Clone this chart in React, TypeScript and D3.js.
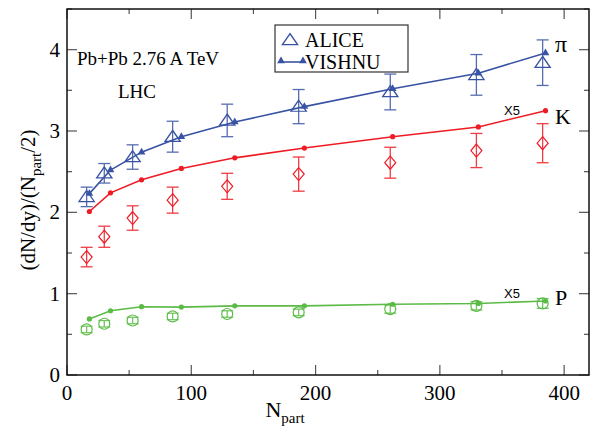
import { useEffect, useRef } from "react";
import * as d3 from "d3";

// ALICE data (centrality bins)
const npartData = [15.8, 30.0, 52.8, 85.0, 128.9, 186.4, 260.1, 329.4, 382.7];
const piData = [2.19, 2.48, 2.68, 2.93, 3.13, 3.30, 3.48, 3.69, 3.84];
const piErr = [0.12, 0.12, 0.15, 0.19, 0.20, 0.21, 0.22, 0.25, 0.28];
const kData = [1.45, 1.70, 1.93, 2.15, 2.32, 2.47, 2.61, 2.76, 2.85];
const kErr = [0.12, 0.13, 0.15, 0.16, 0.16, 0.21, 0.19, 0.21, 0.24];
const pData = [0.56, 0.63, 0.67, 0.72, 0.75, 0.77, 0.81, 0.85, 0.88];
const pErr = [0.04, 0.04, 0.04, 0.04, 0.04, 0.04, 0.05, 0.05, 0.06];

// VISHNU model
const npartModel = [18, 35, 60, 92, 135, 191, 262, 331, 385];
const piModel = [2.23, 2.52, 2.74, 2.93, 3.11, 3.30, 3.52, 3.71, 3.96];
const kModel = [2.01, 2.24, 2.40, 2.54, 2.67, 2.79, 2.93, 3.05, 3.25];
const pModel = [0.69, 0.79, 0.84, 0.835, 0.85, 0.85, 0.87, 0.88, 0.91];

const xTicks = [0, 100, 200, 300, 400];
const yTicks = [0, 1, 2, 3, 4];

const BLUE = "#3953a4";
const RED = "#ee1c25";
const GREEN = "#5bbb46";

export default function App() {
  const ref = useRef<SVGSVGElement>(null);

  useEffect(() => {
    const svg = d3.select(ref.current);
    svg.selectAll("*").remove();

    const L = 67, R = 589, T = 9, B = 375;
    const x = d3.scaleLinear().domain([0, 420]).range([L, R]);
    const y = d3.scaleLinear().domain([0, 4.5]).range([B, T]);
    const serif = "'Liberation Serif', 'Times New Roman', Tinos, 'DejaVu Serif', serif";
    const sans = "'Liberation Sans', Arial, sans-serif";

    // ticks on all sides
    const tk = svg.append("g").attr("stroke", "#555").attr("stroke-width", 1.2);
    d3.range(0, 421, 50).forEach((v) => {
      const len = v % 100 === 0 ? 10 : 5;
      tk.append("line").attr("x1", x(v)).attr("x2", x(v)).attr("y1", B).attr("y2", B - len);
      tk.append("line").attr("x1", x(v)).attr("x2", x(v)).attr("y1", T).attr("y2", T + len);
    });
    d3.range(0, 4.51, 0.5).forEach((v) => {
      const len = Math.abs(v - Math.round(v)) < 1e-6 ? 10 : 5;
      tk.append("line").attr("y1", y(v)).attr("y2", y(v)).attr("x1", L).attr("x2", L + len);
      tk.append("line").attr("y1", y(v)).attr("y2", y(v)).attr("x1", R).attr("x2", R - len);
    });

    svg.append("rect").attr("x", L).attr("y", T).attr("width", R - L).attr("height", B - T)
      .attr("fill", "none").attr("stroke", "#111").attr("stroke-width", 1.5);

    // tick labels
    svg.append("g").selectAll("text").data(xTicks).join("text")
      .attr("x", (d) => x(d)).attr("y", B + 25).attr("text-anchor", "middle")
      .style("font-family", serif).attr("font-size", 21).text((d) => d);
    svg.append("g").selectAll("text").data(yTicks).join("text")
      .attr("x", L - 7).attr("y", (d) => y(d) + 7).attr("text-anchor", "end")
      .style("font-family", serif).attr("font-size", 21).text((d) => d);

    // axis titles
    const xt = svg.append("text").attr("x", 285).attr("y", 417).attr("text-anchor", "middle")
      .style("font-family", serif).attr("font-size", 22);
    xt.append("tspan").text("N");
    xt.append("tspan").attr("font-size", 15).attr("dy", 6).text("part");

    const yt = svg.append("text").attr("transform", "translate(35,200) rotate(-90)")
      .attr("text-anchor", "middle").style("font-family", serif).attr("font-size", 21);
    yt.append("tspan").text("(dN/dy)/(N");
    yt.append("tspan").attr("font-size", 15).attr("dy", 6).text("part");
    yt.append("tspan").attr("dy", -6).text("/2)");

    const line = d3.line<number>().x((_, i) => x(npartModel[i])).y((d) => y(d));
    const tri = d3.symbol().type(d3.symbolTriangle);

    const drawErr = (vals: number[], errs: number[], color: string) => {
      const g = svg.append("g").attr("stroke", color).attr("stroke-width", 1.3).attr("opacity", 0.85);
      vals.forEach((v, i) => {
        const cx = x(npartData[i]);
        const y1 = y(v + errs[i]), y2 = y(v - errs[i]);
        g.append("line").attr("x1", cx).attr("x2", cx).attr("y1", y1).attr("y2", y2);
        g.append("line").attr("x1", cx - 6).attr("x2", cx + 6).attr("y1", y1).attr("y2", y1);
        g.append("line").attr("x1", cx - 6).attr("x2", cx + 6).attr("y1", y2).attr("y2", y2);
      });
    };

    // pions
    drawErr(piData, piErr, BLUE);
    svg.append("g").selectAll("path").data(piData).join("path")
      .attr("d", tri.size(70)())
      .attr("transform", (d, i) => `translate(${x(npartData[i])},${y(d) + 1}) scale(1.2,1)`)
      .attr("fill", "none").attr("stroke", BLUE).attr("stroke-width", 1.2);
    svg.append("path").datum(piModel).attr("d", line).attr("fill", "none")
      .attr("stroke", BLUE).attr("stroke-width", 1.6);
    svg.append("g").selectAll("path").data(piModel).join("path")
      .attr("d", tri.size(26)())
      .attr("transform", (d, i) => `translate(${x(npartModel[i])},${y(d)})`)
      .attr("fill", BLUE);

    // kaons
    drawErr(kData, kErr, RED);
    svg.append("g").selectAll("path").data(kData).join("path")
      .attr("d", "M0,-6.5L5.5,0L0,6.5L-5.5,0Z")
      .attr("transform", (d, i) => `translate(${x(npartData[i])},${y(d)})`)
      .attr("fill", "none").attr("stroke", RED).attr("stroke-width", 1.2);
    svg.append("path").datum(kModel).attr("d", line).attr("fill", "none")
      .attr("stroke", RED).attr("stroke-width", 1.6);
    svg.append("g").selectAll("circle").data(kModel).join("circle")
      .attr("cx", (_, i) => x(npartModel[i])).attr("cy", (d) => y(d)).attr("r", 2.6)
      .attr("fill", RED);

    // protons
    drawErr(pData, pErr, GREEN);
    svg.append("g").selectAll("circle").data(pData).join("circle")
      .attr("cx", (_, i) => x(npartData[i])).attr("cy", (d) => y(d)).attr("r", 5.5)
      .attr("fill", "none").attr("stroke", GREEN).attr("stroke-width", 1.2);
    svg.append("path").datum(pModel).attr("d", line).attr("fill", "none")
      .attr("stroke", GREEN).attr("stroke-width", 1.6);
    svg.append("g").selectAll("circle").data(pModel).join("circle")
      .attr("cx", (_, i) => x(npartModel[i])).attr("cy", (d) => y(d)).attr("r", 2.6)
      .attr("fill", GREEN);

    // annotations
    const ann = (tx: number, ty: number, s: string, size: number, fam: string) =>
      svg.append("text").attr("x", tx).attr("y", ty).style("font-family", fam)
        .attr("font-size", size).text(s);
    ann(77, 65, "Pb+Pb 2.76 A TeV", 19, serif);
    ann(118, 98, "LHC", 19, serif);
    ann(555, 52, "π", 24, serif);
    ann(555, 124, "K", 22, serif);
    ann(555, 305, "P", 22, serif);
    ann(504, 115, "X5", 13, sans);
    ann(504, 298, "X5", 13, sans);

    // legend
    const lg = svg.append("g");
    lg.append("rect").attr("x", 275).attr("y", 25).attr("width", 133).attr("height", 47)
      .attr("fill", "white").attr("stroke", "#333").attr("stroke-width", 1.2);
    lg.append("path").attr("d", tri.size(70)())
      .attr("transform", "translate(290,41) scale(1.2,1)")
      .attr("fill", "none").attr("stroke", BLUE).attr("stroke-width", 1.2);
    lg.append("line").attr("x1", 281).attr("x2", 303).attr("y1", 62).attr("y2", 62)
      .attr("stroke", BLUE).attr("stroke-width", 1.6);
    [281, 303].forEach((px) =>
      lg.append("path").attr("d", tri.size(26)()).attr("transform", `translate(${px},61)`).attr("fill", BLUE));
    ann(305, 47, "ALICE", 20, serif);
    ann(305, 69, "VISHNU", 20, serif);
  }, []);

  return (
    <svg ref={ref} width={600} height={428}
      style={{ position: "absolute", left: 0, top: 0, background: "white" }} />
  );
}
